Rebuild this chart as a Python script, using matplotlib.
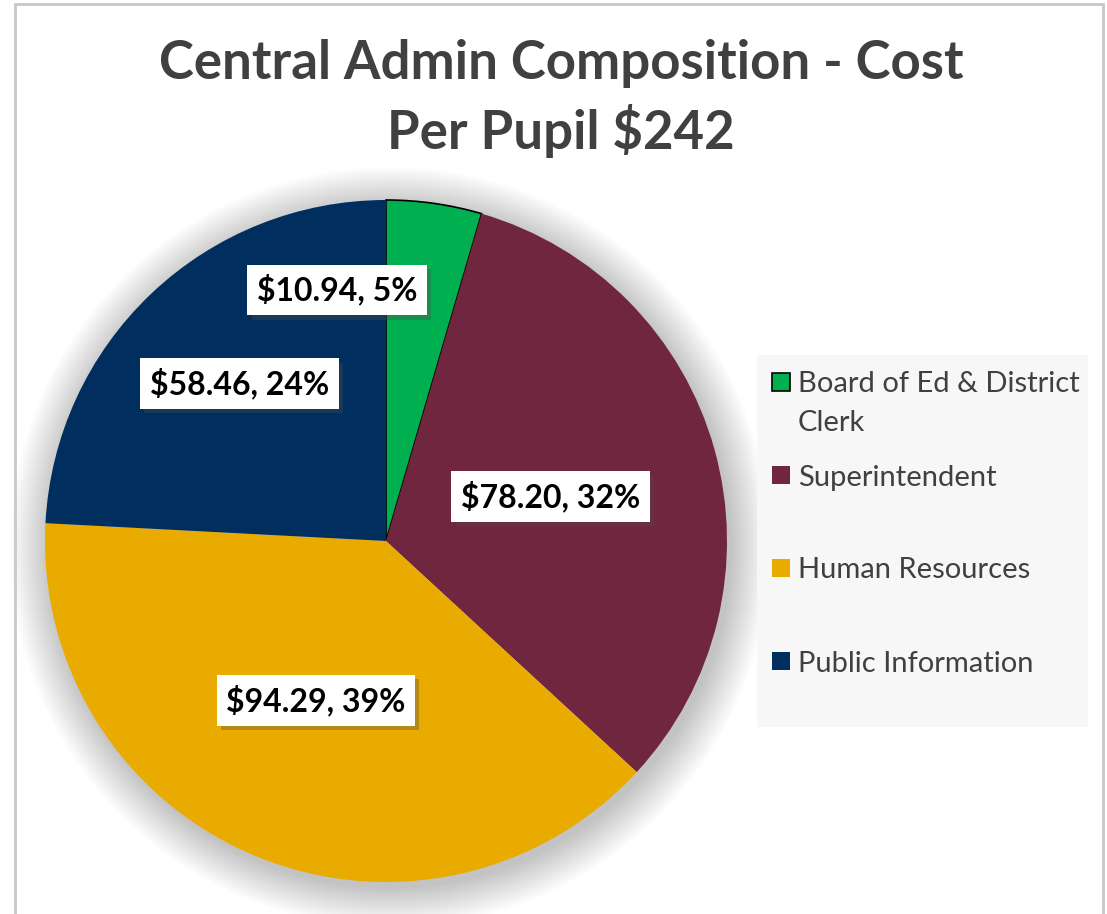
import numpy as np
import matplotlib
matplotlib.use("Agg")
import matplotlib.pyplot as plt
from matplotlib.patches import Rectangle, Circle
import matplotlib.patheffects as pe

categories = ["Board of Ed & District Clerk", "Superintendent", "Human Resources", "Public Information"]
legend_labels = ["Board of Ed & District\nClerk", "Superintendent", "Human Resources", "Public Information"]
costs = [10.94, 78.20, 94.29, 58.46]
colors = ["#00b050", "#6f263e", "#eaab00", "#002e5e"]
total = 242

W, H = 1107, 914
plt.rcParams['font.family'] = ['Lato', 'DejaVu Sans']
TXT = "#404040"

fig = plt.figure(figsize=(W / 100, H / 100), dpi=100)

def fx(x):
    return x / W

def fy(y):
    return 1 - y / H

# chart frame
fig.patches.append(Rectangle((fx(15), fy(930)), fx(1103) - fx(15), fy(4) - fy(930),
                             transform=fig.transFigure, fill=False, ec="#c8c8c8", lw=2))

# title
fig.text(fx(561), fy(63), "Central Admin Composition - Cost", ha="center", va="center",
         fontsize=38, fontweight="bold", color=TXT)
fig.text(fx(561), fy(131), "Per Pupil $" + str(total), ha="center", va="center",
         fontsize=38, fontweight="bold", color=TXT)

# pie axes: center (386, 541), radius 341 px
cx, cy, r = 386, 541, 341
ax = fig.add_axes([fx(cx - r), fy(cy + r), 2 * r / W, 2 * r / H])
ax.set_axis_off()

wedges, _ = ax.pie(costs, colors=colors, startangle=90, counterclock=False, radius=1,
                   wedgeprops=dict(linewidth=0))
ax.set_xlim(-1, 1)
ax.set_ylim(-1, 1)
ax.set_aspect("auto")

# soft shadow
for k in range(30):
    ax.add_patch(Circle((0.012, -0.018), 1.0 + k * 0.004, color="black", alpha=0.006,
                        lw=0, zorder=0, clip_on=False))

for w in wedges:
    w.set_zorder(2)
    w.set_clip_on(False)
wedges[0].set_edgecolor("black")
wedges[0].set_linewidth(1.2)

# label positions (polar angle deg, radius) as moved in the original
label_pos = [(101, 0.75), (15, 0.50), (-113.8, 0.51), (133, 0.63)]
for v, (ang, rad) in zip(costs, label_pos):
    pct = v / sum(costs) * 100
    t = ax.text(rad * np.cos(np.radians(ang)), rad * np.sin(np.radians(ang)),
                "${:.2f}, {:.0f}%".format(v, pct), ha="center", va="center",
                fontsize=23, fontweight="bold", color="black", zorder=5,
                bbox=dict(boxstyle="square,pad=0.3", fc="white", ec="none"))
    t.get_bbox_patch().set_path_effects([pe.SimplePatchShadow(offset=(3, -3), alpha=0.35),
                                         pe.Normal()])

# legend
fig.patches.append(Rectangle((fx(757), fy(727)), fx(1088) - fx(757), fy(355) - fy(727),
                             transform=fig.transFigure, fc="#f7f7f7", ec="none", zorder=0))
legend_y = [382, 475, 568, 661]
for lab, col, y, i in zip(legend_labels, colors, legend_y, range(4)):
    fig.patches.append(Rectangle((fx(772), fy(y + 9)), fx(790) - fx(772), fy(y - 9) - fy(y + 9),
                                 transform=fig.transFigure, fc=col,
                                 ec="black" if i == 0 else "none", lw=1.2, zorder=2))
    for j, line in enumerate(lab.split("\n")):
        fig.text(fx(798), fy(y + j * 39), line, ha="left", va="center_baseline",
                 fontsize=21, color=TXT)

fig.savefig("out.png", dpi=100)
